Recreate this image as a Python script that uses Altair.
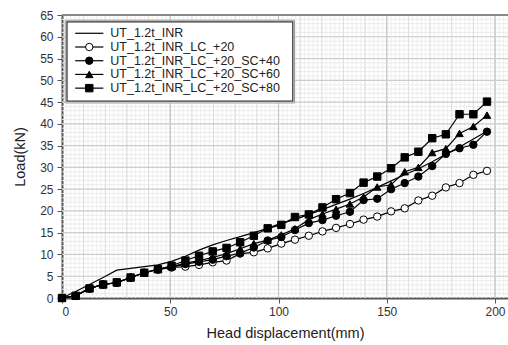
import altair as alt
import pandas as pd

# ---- data ----
disp = [0, 6.3, 12.7, 19.0, 25.3, 31.7, 38.0, 44.3, 50.6, 57.0, 63.3, 69.6, 76.0, 82.3,
        88.6, 95.0, 101.3, 107.6, 114.0, 120.3, 126.6, 133.0, 139.3, 145.6, 152.0, 158.3,
        164.6, 171.0, 177.3, 183.6, 190.0, 196.3]

inr = [0, 1.5, 3.1, 4.7, 6.4, 6.8, 7.2, 7.6, 8.4, 9.6, 11.0, 12.2, 13.2, 14.1, 15.0, 16.0,
       17.2, 18.0, 19.2, 20.3, 21.5, 22.7, 24.0, 25.4, 26.9, 28.3, 29.7, 31.3, 33.0, 34.7,
       36.5, 38.3]
lc20 = [0, 0.5, 2.2, 3.1, 3.5, 4.7, 5.8, 6.5, 7.0, 7.2, 7.6, 8.2, 8.6, 10.2, 10.5, 11.4,
        12.5, 13.4, 14.3, 15.3, 16.1, 17.0, 18.0, 18.7, 19.9, 20.6, 22.4, 23.5, 25.4, 26.4,
        28.3, 29.2]
sc40 = [0, 0.5, 2.2, 3.1, 3.5, 4.7, 5.8, 6.6, 7.1, 7.8, 8.3, 8.8, 9.6, 10.3, 11.6, 13.2,
        14.0, 15.6, 17.2, 17.9, 18.9, 19.8, 22.5, 22.8, 25.0, 26.4, 27.9, 30.3, 33.1, 34.4,
        35.2, 38.2]
sc60 = [0, 0.5, 2.2, 3.1, 3.5, 4.7, 5.8, 6.6, 7.2, 8.0, 8.6, 9.3, 10.2, 11.3, 12.5, 13.3,
        14.5, 15.9, 18.0, 19.3, 20.4, 21.6, 23.2, 25.5, 26.0, 29.0, 30.0, 33.4, 34.3, 37.8,
        39.4, 42.0]
sc80 = [0, 0.5, 2.2, 3.1, 3.6, 4.7, 5.8, 6.6, 7.4, 8.6, 9.7, 10.7, 11.5, 12.8, 14.3, 16.0,
        16.8, 18.6, 19.2, 20.8, 22.7, 24.1, 26.5, 27.9, 29.8, 32.3, 33.6, 36.7, 37.6, 42.2,
        42.2, 45.1]

series = ["UT_1.2t_INR", "UT_1.2t_INR_LC_+20", "UT_1.2t_INR_LC_+20_SC+40",
          "UT_1.2t_INR_LC_+20_SC+60", "UT_1.2t_INR_LC_+20_SC+80"]
values = [inr, lc20, sc40, sc60, sc80]
marker_series = series[1:]
shapes = ["circle", "circle", "triangle-up", "square"]
fills = ["white", "black", "black", "black"]

x_ticks = [0, 50, 100, 150, 200]
y_ticks = list(range(0, 66, 5))

# ---- tables ----
rows = []
for name, ys in zip(series, values):
    for xv, yv in zip(disp, ys):
        rows.append({"series": name, "x": xv, "y": yv})
df = pd.DataFrame(rows)
df_pts = df[df["series"] != series[0]]

X_DOM = [0, 206]
Y_DOM = [0, 65]
xs = alt.Scale(domain=X_DOM, nice=False, zero=False)
ys_ = alt.Scale(domain=Y_DOM, nice=False, zero=False)

AX = alt.Axis(values=x_ticks, title="Head displacement(mm)", grid=False,
              labelFontSize=12, labelColor="#333", labelFont="Liberation Sans",
              titleFont="Liberation Sans", titleFontSize=14.5,
              titleFontWeight="normal", titleColor="#222",
              tickColor="#555", tickSize=5, domainColor="#555", domainWidth=2,
              labelPadding=3, titlePadding=9)
AY = alt.Axis(values=y_ticks, title="Load(kN)", grid=False,
              labelFontSize=12, labelColor="#333", labelFont="Liberation Sans",
              titleFont="Liberation Sans", titleFontSize=14.5,
              titleFontWeight="normal", titleColor="#222",
              tickColor="#555", tickSize=5, domainColor="#555", domainWidth=2,
              labelPadding=4, titlePadding=12)

# grid tables
fine_x = pd.DataFrame({"v": [v for v in range(2, 207, 2)]})
mid_x = pd.DataFrame({"v": [v for v in range(10, 207, 10)]})
major_x = pd.DataFrame({"v": x_ticks[1:]})
fine_y = pd.DataFrame({"v": [v for v in range(1, 65)]})
major_y = pd.DataFrame({"v": y_ticks[1:]})

def vrule(d, color, w):
    return alt.Chart(d).mark_rule(color=color, strokeWidth=w).encode(
        x=alt.X("v:Q", scale=xs, axis=AX))

def hrule(d, color, w):
    return alt.Chart(d).mark_rule(color=color, strokeWidth=w).encode(
        y=alt.Y("v:Q", scale=ys_, axis=AY))

grid = (vrule(fine_x, "#efefef", 1) + hrule(fine_y, "#ebebeb", 1) +
        vrule(mid_x, "#dedede", 1) + vrule(major_x, "#c4c4c4", 1.2) +
        hrule(major_y, "#cdcdcd", 1.2))

top_border = alt.Chart(pd.DataFrame({"v": [65]})).mark_rule(color="#8a8a8a", strokeWidth=2).encode(
    y=alt.Y("v:Q", scale=ys_, axis=AY))

lines = alt.Chart(df).mark_line(color="black", strokeWidth=1.2).encode(
    x=alt.X("x:Q", scale=xs, axis=AX),
    y=alt.Y("y:Q", scale=ys_, axis=AY),
    detail="series:N",
)

shape_scale = alt.Scale(domain=marker_series, range=shapes)
fill_scale = alt.Scale(domain=marker_series, range=fills)

points = alt.Chart(df_pts).mark_point(filled=True, stroke="black", strokeWidth=1, opacity=1).encode(
    x=alt.X("x:Q", scale=xs, axis=AX),
    y=alt.Y("y:Q", scale=ys_, axis=AY),
    shape=alt.Shape("series:N", scale=shape_scale, legend=None),
    fill=alt.Fill("series:N", scale=fill_scale, legend=None),
    size=alt.value(55),
)

# ---- manual legend (in data coordinates) ----
leg = pd.DataFrame({
    "series": series,
    "ly": [60.8 - 3.15 * i for i in range(len(series))],
    "x0": [6.1] * 5, "x1": [19.1] * 5, "xm": [12.6] * 5, "xt": [22.3] * 5,
})
box = pd.DataFrame({"x0": [1.5], "x1": [107.4], "y0": [44.8], "y1": [63.8]})
box_i = pd.DataFrame({"x0": [2.3], "x1": [106.6], "y0": [45.2], "y1": [63.4]})

leg_box = alt.Chart(box).mark_rect(fill="white", stroke="#9a9a9a", strokeWidth=1).encode(
    x=alt.X("x0:Q", scale=xs, axis=AX), x2="x1:Q",
    y=alt.Y("y0:Q", scale=ys_, axis=AY), y2="y1:Q")
leg_box_i = alt.Chart(box_i).mark_rect(fill="white", stroke="#333", strokeWidth=1.3).encode(
    x=alt.X("x0:Q", scale=xs, axis=AX), x2="x1:Q",
    y=alt.Y("y0:Q", scale=ys_, axis=AY), y2="y1:Q")
leg_lines = alt.Chart(leg).mark_rule(color="black", strokeWidth=1.2).encode(
    x=alt.X("x0:Q", scale=xs, axis=AX), x2="x1:Q",
    y=alt.Y("ly:Q", scale=ys_, axis=AY))
leg_pts = alt.Chart(leg[leg["series"] != series[0]]).mark_point(
    filled=True, stroke="black", strokeWidth=1, opacity=1).encode(
    x=alt.X("xm:Q", scale=xs, axis=AX),
    y=alt.Y("ly:Q", scale=ys_, axis=AY),
    shape=alt.Shape("series:N", scale=shape_scale, legend=None),
    fill=alt.Fill("series:N", scale=fill_scale, legend=None),
    size=alt.value(55))
leg_text = alt.Chart(leg).mark_text(align="left", baseline="middle", fontSize=12.5,
                                    font="Liberation Sans", color="#222").encode(
    x=alt.X("xt:Q", scale=xs, axis=AX),
    y=alt.Y("ly:Q", scale=ys_, axis=AY),
    text="series:N")

chart = alt.layer(
    grid, top_border, lines, points, leg_box, leg_box_i, leg_lines, leg_pts, leg_text
).properties(
    width=446, height=283,
    padding={"left": 62, "top": 15, "right": 0, "bottom": 47},
    autosize=alt.AutoSizeParams(type="none"),
    background="white",
).configure_view(stroke=None)

chart.save("out.html", embed_options={"renderer": "svg", "actions": False})
